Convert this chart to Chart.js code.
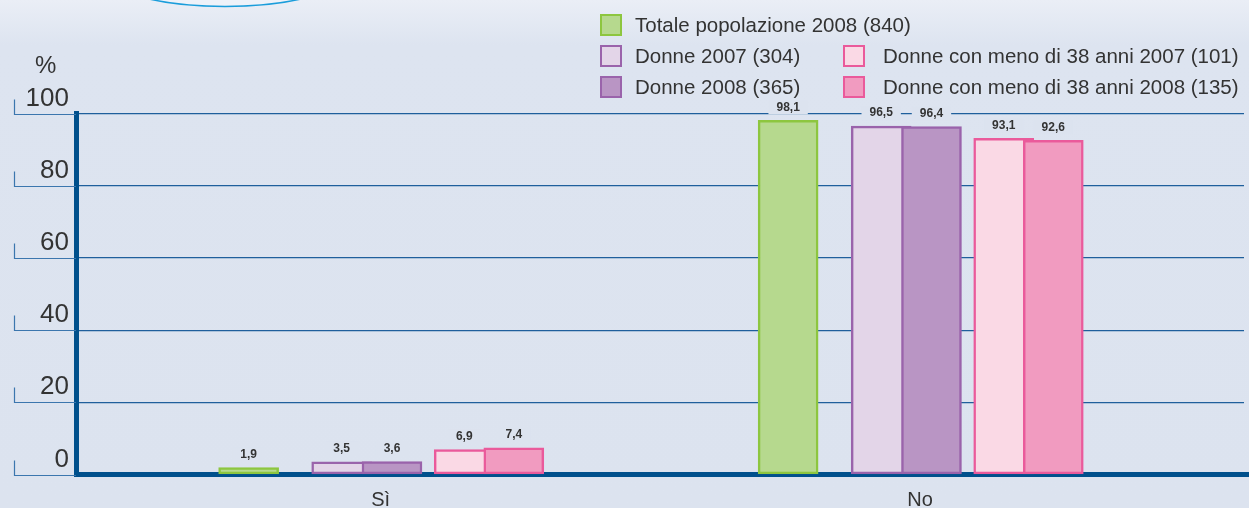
<!DOCTYPE html>
<html><head><meta charset="utf-8">
<script src="https://cdn.jsdelivr.net/npm/chart.js@4"></script>
<style>
html,body{margin:0;padding:0;}
body{width:1249px;height:508px;overflow:hidden;background:#dce3ef;font-family:"Liberation Sans",Arial,sans-serif;}
#wrap{position:relative;width:1249px;height:508px;background:linear-gradient(to bottom,#eaeef6 0px,#dde4f0 45px,#dce3ef 100%);}
canvas{position:absolute;left:0;top:0;}
.sw{position:absolute;width:22px;height:22px;box-sizing:border-box;border:2.5px solid;}
.lt{position:absolute;height:24px;line-height:24px;font-size:20.5px;color:#333;white-space:nowrap;}
#pct{position:absolute;left:35px;top:51px;font-size:24px;line-height:28px;color:#333;}
</style></head>
<body><div id="wrap"><canvas id="c" width="1249" height="508"></canvas><div id="pct">%</div><div id="legend"></div></div>
<script>
// ---- data ----
const categories = ['Sì', 'No'];
const seriesLabels = [
  'Totale popolazione 2008 (840)',
  'Donne 2007 (304)',
  'Donne 2008 (365)',
  'Donne con meno di 38 anni 2007 (101)',
  'Donne con meno di 38 anni 2008 (135)'
];
const totale2008 = [1.9, 98.1];
const donne2007 = [3.5, 96.5];
const donne2008 = [3.6, 96.4];
const under38_2007 = [6.9, 93.1];
const under38_2008 = [7.4, 92.6];
const yTickValues = [0, 20, 40, 60, 80, 100];

// ---- styles / layout ----
const seriesValues = [totale2008, donne2007, donne2008, under38_2007, under38_2008];
const fills = ['#b6d98e', '#e3d5e8', '#b995c4', '#fad9e5', '#f19bc0'];
const borders = ['#8dc63f', '#9a63ab', '#9a63ab', '#ea5a9b', '#ea5a9b'];
const barOffsets = [-0.2446, -0.0721, 0.0211, 0.155, 0.2469];
const drawOrder = [0, 1, 0, 1, 0];
const legendSlots = [[600, 25], [600, 56], [600, 87], [843, 56], [843, 87]];
const BG = '#dce3ef';
const AXIS = '#00508c';
const X_MIN = -0.5646, X_MAX = 1.6004;

// legend
const legend = document.getElementById('legend');
seriesLabels.forEach((lab, k) => {
  const [lx, cy] = legendSlots[k];
  const sw = document.createElement('div');
  sw.className = 'sw';
  sw.style.left = lx + 'px'; sw.style.top = (cy - 11) + 'px';
  sw.style.background = fills[k]; sw.style.borderColor = borders[k];
  const t = document.createElement('div');
  t.className = 'lt';
  t.style.left = (lx + (k >= 3 ? 40 : 35)) + 'px'; t.style.top = (cy - 12) + 'px';
  t.textContent = lab;
  legend.appendChild(sw); legend.appendChild(t);
});

const decor = {
  id: 'decor',
  beforeDraw(chart) {
    const ctx = chart.ctx;
    ctx.save();
    ctx.beginPath();
    ctx.ellipse(225, -22, 112, 28.5, 0, 0, Math.PI * 2);
    ctx.fillStyle = '#eef2f9'; ctx.fill();
    ctx.lineWidth = 1.6; ctx.strokeStyle = '#1a9ddb'; ctx.stroke();
    ctx.restore();
  },
  beforeDatasetsDraw(chart) {
    const ctx = chart.ctx, y = chart.scales.y, left = chart.chartArea.left;
    ctx.save();
    ctx.strokeStyle = '#3b76ae'; ctx.lineWidth = 1.2;
    ctx.beginPath();
    yTickValues.forEach(v => {
      const py = Math.round(y.getPixelForValue(v)) + 0.5;
      ctx.moveTo(14.5, py - 15); ctx.lineTo(14.5, py); ctx.lineTo(left, py);
    });
    ctx.stroke();
    ctx.restore();
  },
  afterDraw(chart) {
    const ctx = chart.ctx, a = chart.chartArea;
    ctx.save();
    ctx.fillStyle = AXIS;
    ctx.fillRect(a.right, a.bottom - 2.5, chart.width - a.right, 5);
    ctx.restore();
  }
};

const valueLabels = {
  id: 'valueLabels',
  afterDatasetsDraw(chart) {
    const ctx = chart.ctx;
    ctx.save();
    ctx.font = 'bold 12px "Liberation Sans", Arial, sans-serif';
    const items = [];
    chart.data.datasets.forEach((ds, di) => {
      const meta = chart.getDatasetMeta(di);
      meta.data.forEach((bar, i) => {
        const t = ds.data[i].y.toFixed(1).replace('.', ',');
        items.push({ x: bar.x, y: bar.y - 13, t });
      });
    });
    ctx.fillStyle = BG;
    items.forEach(it => { const w = ctx.measureText(it.t).width + 16; ctx.fillRect(it.x - w / 2, it.y - 7, w, 14); });
    ctx.fillStyle = '#333'; ctx.textAlign = 'center'; ctx.textBaseline = 'middle';
    items.forEach(it => ctx.fillText(it.t, it.x, it.y));
    ctx.restore();
  }
};

const datasets = seriesValues.map((vals, k) => ({
  label: seriesLabels[k],
  data: vals.map((v, i) => ({ x: i + barOffsets[k], y: v })),
  backgroundColor: fills[k],
  borderColor: borders[k],
  borderWidth: 2.5,
  borderSkipped: false,
  barThickness: 60,
  grouped: false,
  order: drawOrder[k]
}));

new Chart(document.getElementById('c'), {
  type: 'bar',
  data: { datasets },
  options: {
    responsive: false,
    animation: false,
    layout: { padding: { top: 113.5, right: 5, left: 0, bottom: 0 } },
    plugins: { legend: { display: false }, tooltip: { enabled: false } },
    scales: {
      x: {
        type: 'linear',
        min: X_MIN, max: X_MAX,
        bounds: 'data',
        offset: false,
        z: 1,
        grid: { display: false, drawTicks: false, offset: false },
        border: { display: true, color: AXIS, width: 5 },
        afterDataLimits: s => { s.min = X_MIN; s.max = X_MAX; },
        afterBuildTicks: s => { s.min = X_MIN; s.max = X_MAX; s.ticks = categories.map((c, i) => ({ value: i })); },
        afterFit: s => { s.height = 33.5; s.paddingLeft = 0; s.paddingRight = 0; },
        ticks: {
          autoSkip: false, maxRotation: 0, padding: 14,
          color: '#333', font: { family: 'Liberation Sans', size: 20 },
          callback: v => categories[v] ?? ''
        }
      },
      y: {
        min: 0, max: 100,
        grid: { color: '#1f5f9c', lineWidth: 1.2, drawTicks: false },
        border: { display: true, color: AXIS, width: 5 },
        afterBuildTicks: s => { s.ticks = yTickValues.map(v => ({ value: v })); },
        afterFit: s => { s.width = 76; s.paddingTop = 0; s.paddingBottom = 0; },
        ticks: {
          padding: 7, labelOffset: -15,
          color: '#333', font: { family: 'Liberation Sans', size: 26 },
          callback: v => String(v)
        }
      }
    }
  },
  plugins: [decor, valueLabels]
});
</script>
</body></html>
